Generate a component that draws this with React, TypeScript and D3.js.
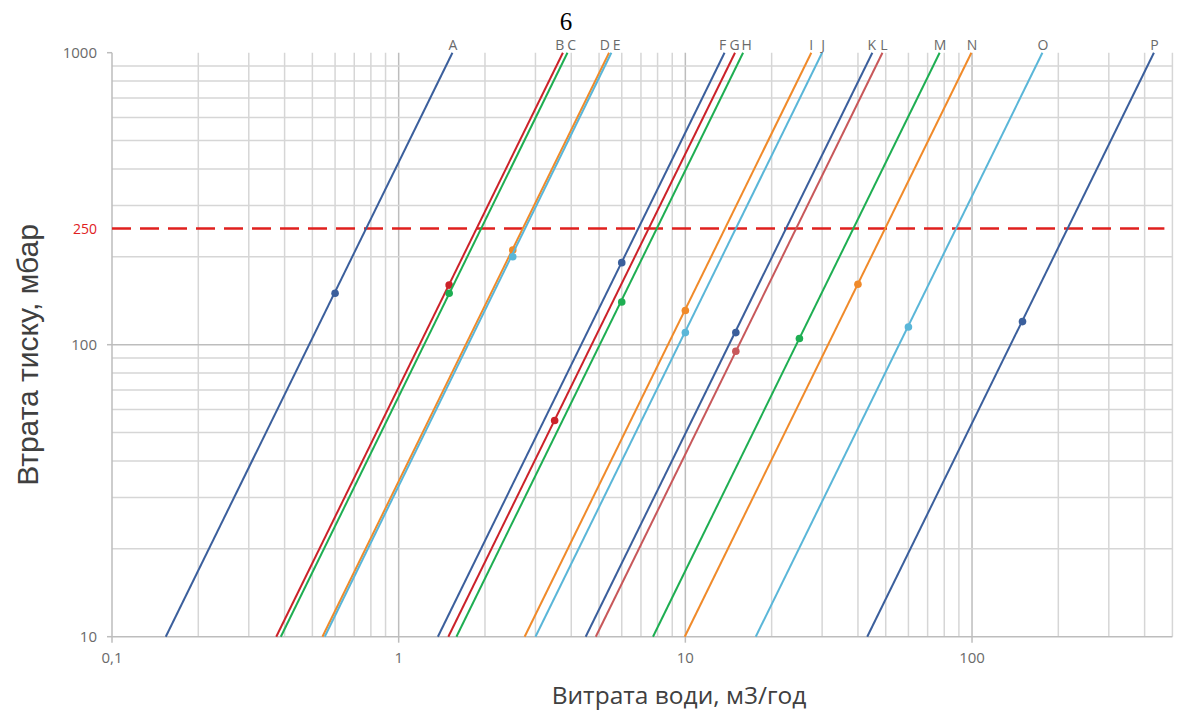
import React from "react";
import * as d3 from "d3";

const W = 1178;
const H = 713;

// Series: name, flow at 10 mbar and flow at 1000 mbar (m3/h), colour
const seriesNames = ["A","B","C","D","E","F","G","H","I","J","K","L","M","N","O","P"];
const flowAt1000 = [1.54, 3.74, 3.88, 5.42, 5.52, 13.7, 14.9, 15.9, 27.5, 30.0, 44.9, 48.7, 77.1, 99.5, 176, 431];
const flowAt10 = [0.154, 0.374, 0.388, 0.542, 0.552, 1.37, 1.49, 1.59, 2.75, 3.0, 4.49, 4.87, 7.71, 9.95, 17.6, 43.1];
const seriesColors = [
  "#3b5f9c", "#cc2229", "#1eae52", "#f08a2a", "#5ab6d8",
  "#3b5f9c", "#cc2229", "#1eae52", "#f08a2a", "#5ab6d8",
  "#3b5f9c", "#c8585a", "#1eae52", "#f08a2a", "#5ab6d8", "#3b5f9c",
];
// Marker on each series: flow and pressure loss
const markerFlow = [0.6, 1.5, 1.5, 2.5, 2.5, 6, 3.5, 6, 10, 10, 15, 15, 25, 40, 60, 150];
const markerLoss = [150, 160, 150, 211, 200, 191, 55, 140, 131, 110, 110, 95, 105, 161, 115, 120];

const xTickValues = [0.1, 1, 10, 100];
const xTickLabels = ["0,1", "1", "10", "100"];
const yTickValues = [10, 100, 1000];
const yTickLabels = ["10", "100", "1000"];
const limitValue = 250;
const limitLabel = "250";

const xTitle = "Витрата води, м3/год";
const yTitle = "Втрата тиску, мбар";
const pageNumber = "6";

function spreadLabels(xs: number[], minGap: number): number[] {
  const pos = xs.slice();
  for (let iter = 0; iter < 50; iter++) {
    let moved = false;
    for (let i = 1; i < pos.length; i++) {
      const gap = pos[i] - pos[i - 1];
      if (gap < minGap) {
        const push = (minGap - gap) / 2;
        pos[i - 1] -= push;
        pos[i] += push;
        moved = true;
      }
    }
    if (!moved) break;
  }
  return pos;
}

export default function App() {
  const left = 112, right = 1172.4, top = 52.7, bottom = 636.7;
  const x = d3.scaleLog().domain([0.1, 500]).range([left, right]);
  const y = d3.scaleLog().domain([10, 1000]).range([bottom, top]);

  const xGrid: number[] = [];
  for (let d = 0.1; d < 500; d *= 10) {
    for (let m = 1; m <= 9; m++) {
      const v = +(d * m).toPrecision(6);
      if (v > 0.1 && v <= 500) xGrid.push(v);
    }
  }
  const yGrid: number[] = [];
  for (let d = 10; d < 1000; d *= 10) {
    for (let m = 1; m <= 9; m++) {
      const v = d * m;
      if (v > 10 && v <= 1000) yGrid.push(v);
    }
  }
  const isMajor = (v: number) => Math.abs(Math.log10(v) - Math.round(Math.log10(v))) < 1e-6;

  const line = d3
    .line<[number, number]>()
    .x((d) => x(d[0]))
    .y((d) => y(d[1]));

  const tickFont = "'Open Sans', 'Noto Sans', sans-serif";
  const labelX = spreadLabels(flowAt1000.map((v) => x(v) + 0.5), 12);

  return (
    <svg
      width={W}
      height={H}
      style={{ position: "absolute", left: 0, top: 0, background: "#fff" }}
    >
      <rect x={0} y={0} width={W} height={H} fill="#fff" />
      {/* grid */}
      {xGrid.map((v, i) => (
        <line
          key={"xg" + i}
          x1={x(v)}
          x2={x(v)}
          y1={top}
          y2={bottom}
          stroke={isMajor(v) ? "#bdbdbd" : "#d6d6d6"}
          strokeWidth={1.5}
        />
      ))}
      {yGrid.map((v, i) => (
        <line
          key={"yg" + i}
          x1={left}
          x2={right}
          y1={y(v)}
          y2={y(v)}
          stroke={isMajor(v) ? "#bdbdbd" : "#d6d6d6"}
          strokeWidth={1.5}
        />
      ))}
      {/* axes */}
      <line x1={left} x2={left} y1={top} y2={bottom} stroke="#bdbdbd" strokeWidth={1.5} />
      <line x1={left} x2={right} y1={bottom} y2={bottom} stroke="#bdbdbd" strokeWidth={1.5} />
      {yTickValues.map((v, i) => (
        <g key={"yt" + i}>
          <line x1={left - 5} x2={left} y1={y(v)} y2={y(v)} stroke="#bdbdbd" strokeWidth={1.5} />
          <text
            x={97}
            y={y(v)}
            dy="0.36em"
            textAnchor="end"
            fontFamily={tickFont}
            fontSize={15}
            fill="#6a6a6a"
          >
            {yTickLabels[i]}
          </text>
        </g>
      ))}
      {xTickValues.map((v, i) => (
        <g key={"xt" + i}>
          <line x1={x(v)} x2={x(v)} y1={bottom} y2={bottom + 6} stroke="#bdbdbd" strokeWidth={1.5} />
          <text
            x={x(v)}
            y={658}
            dy="0.36em"
            textAnchor="middle"
            fontFamily={tickFont}
            fontSize={15}
            fill="#6a6a6a"
          >
            {xTickLabels[i]}
          </text>
        </g>
      ))}
      {/* limit line */}
      <line
        x1={left}
        x2={right - 8}
        y1={y(limitValue)}
        y2={y(limitValue)}
        stroke="#e0201e"
        strokeWidth={2.5}
        strokeDasharray="19 9"
      />
      <text
        x={97}
        y={y(limitValue)}
        dy="0.36em"
        textAnchor="end"
        fontFamily={tickFont}
        fontSize={14}
        fill="#e0201e"
      >
        {limitLabel}
      </text>
      {/* series */}
      {seriesNames.map((name, i) => (
        <g key={name}>
          <path
            d={line([
              [flowAt10[i], 10],
              [flowAt1000[i], 1000],
            ]) || ""}
            fill="none"
            stroke={seriesColors[i]}
            strokeWidth={2}
          />
          <circle cx={x(markerFlow[i])} cy={y(markerLoss[i])} r={3.8} fill={seriesColors[i]} />
          <text
            x={labelX[i]}
            y={top - 2.5}
            textAnchor="middle"
            fontFamily={tickFont}
            fontSize={14}
            fill="#6a6a6a"
          >
            {name}
          </text>
        </g>
      ))}
      {/* titles */}
      <text
        x={679}
        y={704}
        textAnchor="middle"
        fontFamily="'Open Sans', 'Noto Sans', sans-serif"
        fontSize={24.5}
        fill="#404040"
      >
        {xTitle}
      </text>
      <text
        transform={`translate(38, 355) rotate(-90)`}
        textAnchor="middle"
        fontFamily="'Liberation Sans', Arial, sans-serif"
        fontSize={30}
        fill="#404040"
      >
        {yTitle}
      </text>
      <text
        x={566}
        y={30}
        textAnchor="middle"
        fontFamily="'Liberation Serif', 'DejaVu Serif', serif"
        fontSize={25}
        fill="#000"
      >
        {pageNumber}
      </text>
    </svg>
  );
}
